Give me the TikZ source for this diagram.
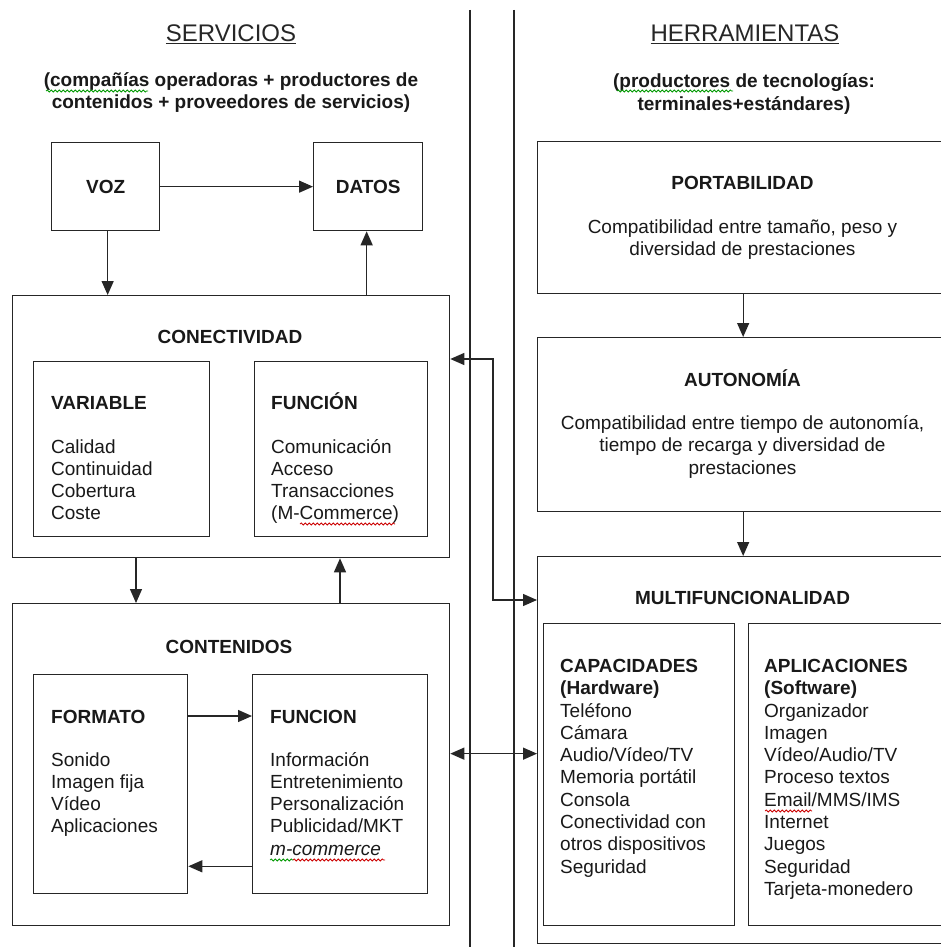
\documentclass[tikz,border=0pt]{standalone}
\usepackage{fontspec}
\setmainfont{Liberation Sans}
\usetikzlibrary{arrows.meta,decorations.pathmorphing}
\begin{document}
\begin{tikzpicture}[x=1pt,y=-1pt,
  box/.style={draw=black!85,line width=1.3pt,rectangle,inner sep=0pt,anchor=north west},
  arr/.style={line width=1.3pt,draw=black!85,-{Triangle[length=14pt,width=12pt]}},
  dbl/.style={line width=1.3pt,draw=black!85,{Triangle[length=14pt,width=12pt]}-{Triangle[length=14pt,width=12pt]}},
  txt/.style={inner sep=0pt,font=\fontsize{19}{22}\selectfont,text=black!90},
  hd/.style={inner sep=0pt,font=\fontsize{19}{22}\selectfont\bfseries,text=black!90},
  ttl/.style={inner sep=0pt,font=\fontsize{24}{28}\selectfont,text=black!85},
  spell/.style={decorate,decoration={snake,amplitude=1pt,segment length=4pt},line width=0.8pt},
]
\useasboundingbox[fill=white] (0,0) rectangle (941,947);
\clip (0,0) rectangle (941,947);

% dividers
\draw[line width=1.3pt,black!85] (470,10) -- (470,947);
\draw[line width=1.3pt,black!85] (514,10) -- (514,947);

% titles
\node[ttl,anchor=base] (serv) at (231,42) {\underline{SERVICIOS}};
\node[ttl,anchor=base] (herr) at (745,42) {\underline{HERRAMIENTAS}};
\node[hd,anchor=base] (sub1a) at (231,87) {(compañías operadoras + productores de};
\node[hd,anchor=base] (sub1b) at (231,109) {contenidos + proveedores de servicios)};
\node[hd,anchor=base] (sub2a) at (744,88) {(productores de tecnologías:};
\node[hd,anchor=base] (sub2b) at (744,111) {terminales+estándares)};

% left boxes
\node[box,minimum width=108pt,minimum height=88pt] (voz) at (51,142) {};
\node[hd] (vozt) at (voz) {VOZ};
\node[box,minimum width=109pt,minimum height=88pt] (datos) at (313,142) {};
\node[hd] (datost) at (datos) {DATOS};

\node[box,minimum width=437pt,minimum height=262pt] (conec) at (12,295) {};
\node[hd,anchor=base] (conect) at (230,343) {CONECTIVIDAD};
\node[box,minimum width=176pt,minimum height=175pt] (var) at (33,361) {};
\node[box,minimum width=173pt,minimum height=175pt] (func) at (254,361) {};
\node[hd,anchor=base west] (vart) at (51,409) {VARIABLE};
\node[hd,anchor=base west] (funct) at (271,409) {FUNCIÓN};
\foreach \t [count=\i from 0] in {Calidad,Continuidad,Cobertura,Coste}
  \node[txt,anchor=base west] (varl\i) at (51,453+22.3*\i) {\t};
\foreach \t [count=\i from 0] in {Comunicación,Acceso,Transacciones,{(M-Commerce)}}
  \node[txt,anchor=base west] (funcl\i) at (271,453+22.3*\i) {\t};

\node[box,minimum width=437pt,minimum height=322pt] (cont) at (12,603) {};
\node[hd,anchor=base] (contt) at (229,653) {CONTENIDOS};
\node[box,minimum width=154pt,minimum height=219pt] (fmt) at (33,674) {};
\node[box,minimum width=175pt,minimum height=219pt] (funk) at (252,674) {};
\node[hd,anchor=base west] (fmtt) at (51,723) {FORMATO};
\node[hd,anchor=base west] (funkt) at (270,723) {FUNCION};
\foreach \t [count=\i from 0] in {Sonido,Imagen fija,Vídeo,Aplicaciones}
  \node[txt,anchor=base west] (fmtl\i) at (51,766+22.3*\i) {\t};
\foreach \t [count=\i from 0] in {Información,Entretenimiento,Personalización,Publicidad/MKT,\textit{m-commerce}}
  \node[txt,anchor=base west] (funkl\i) at (270,766+22.3*\i) {\t};

% right boxes
\node[box,minimum width=411pt,minimum height=152pt] (port) at (537,141) {};
\node[hd,anchor=base] (portt) at (742.5,189) {PORTABILIDAD};
\node[txt,anchor=base] (portl0) at (742.5,233) {Compatibilidad entre tamaño, peso y};
\node[txt,anchor=base] (portl1) at (742.5,255) {diversidad de prestaciones};

\node[box,minimum width=411pt,minimum height=174pt] (auto) at (537,337) {};
\node[hd,anchor=base] (autot) at (742.5,386) {AUTONOMÍA};
\node[txt,anchor=base] (autol0) at (742.5,429) {Compatibilidad entre tiempo de autonomía,};
\node[txt,anchor=base] (autol1) at (742.5,451) {tiempo de recarga y diversidad de};
\node[txt,anchor=base] (autol2) at (742.5,474) {prestaciones};

\node[box,minimum width=411pt,minimum height=387pt] (multi) at (537,556) {};
\node[hd,anchor=base] (multit) at (742.5,604) {MULTIFUNCIONALIDAD};
\node[box,minimum width=191pt,minimum height=302pt] (capa) at (543,623) {};
\node[box,minimum width=200pt,minimum height=302pt] (apli) at (748,623) {};
\node[hd,anchor=base west] (capat) at (560,672) {CAPACIDADES};
\node[hd,anchor=base west] (capah) at (560,694) {(Hardware)};
\node[hd,anchor=base west] (aplit) at (764,672) {APLICACIONES};
\node[hd,anchor=base west] (aplih) at (764,694) {(Software)};
\foreach \t [count=\i from 0] in {Teléfono,Cámara,Audio/Vídeo/TV,Memoria portátil,Consola,Conectividad con,otros dispositivos,Seguridad}
  \node[txt,anchor=base west] (capal\i) at (560,717+22.3*\i) {\t};
\foreach \t [count=\i from 0] in {Organizador,Imagen,Vídeo/Audio/TV,Proceso textos,Email/MMS/IMS,Internet,Juegos,Seguridad,Tarjeta-monedero}
  \node[txt,anchor=base west] (aplil\i) at (764,717+22.3*\i) {\t};

% connectors
\draw[arr] (voz.east) -- (datos.west);
\draw[arr] ([xshift=2pt]voz.south) -- ([xshift=2pt]voz.south |- conec.north);
\draw[arr] ([xshift=-1.5pt]datos.south |- conec.north) -- ([xshift=-1.5pt]datos.south);
\draw[arr] ([xshift=124pt]conec.south west) -- ([xshift=124pt]conec.south west |- cont.north);
\draw[arr] ([xshift=328pt]conec.south west |- cont.north) -- ([xshift=328pt]conec.south west);
\draw[arr] ([yshift=-42pt]fmt.north east) -- ([yshift=-42pt]funk.north west);
\draw[arr] ([yshift=28pt]funk.south west) -- ([yshift=28pt]fmt.south east);
\draw[arr] (port.south) -- (auto.north);
\draw[arr] (auto.south) -- (multi.north);

\coordinate (jx) at (493,0);
\draw[dbl] ([yshift=-64pt]conec.north east) coordinate (a1) -- (jx |- a1) |- ([yshift=-44pt]multi.north west);
\draw[dbl] ([yshift=11pt]cont.east) coordinate (b1) -- (multi.west |- b1);

% spell-check squiggles
\draw[spell,green!60!black] (46,91) -- (148,91);
\draw[spell,green!60!black] (617,91) -- (733,91);
\draw[spell,red!80!black] (300,524) -- (395,524);
\draw[spell,green!60!black] (270,860) -- (293,860);
\draw[spell,red!80!black] (293,860) -- (385,860);
\draw[spell,red!80!black] (765,811) -- (812,811);
\end{tikzpicture}
\end{document}
